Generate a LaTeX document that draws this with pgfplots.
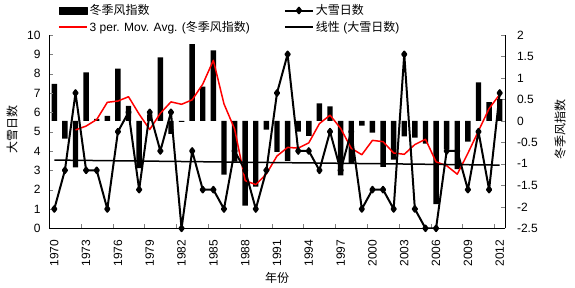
\documentclass[border=0pt]{standalone}
\usepackage{fontspec}
\setmainfont{Liberation Sans}
\newfontfamily\cjk{Noto Sans CJK SC}
\usepackage{pgfplots}
\pgfplotsset{compat=1.18}
\usepackage{pgfplotstable}

\pgfplotstableread{
year idx snow ma
1970 0.86 1 nan
1971 -0.41 3 nan
1972 -1.08 7 -0.210
1973 1.13 3 -0.120
1974 0.05 3 0.033
1975 0.12 1 0.433
1976 1.22 5 0.463
1977 0.35 6 0.563
1978 -1.10 2 0.157
1979 0.15 6 -0.200
1980 1.48 4 0.177
1981 -0.30 6 0.443
1982 -0.02 0 0.387
1983 1.79 4 0.490
1984 0.80 2 0.857
1985 1.64 2 1.410
1986 -1.25 1 0.397
1987 -0.95 4 -0.187
1988 -1.97 3 -1.390
1989 -1.53 1 -1.483
1990 -0.20 3 -1.233
1991 -0.72 7 -0.817
1992 -0.93 9 -0.617
1993 -0.25 4 -0.633
1994 -0.35 4 -0.510
1995 0.41 3 -0.063
1996 0.34 5 0.133
1997 -1.27 3 -0.173
1998 -0.98 5 -0.637
1999 -0.11 1 -0.787
2000 -0.27 2 -0.453
2001 -1.07 2 -0.483
2002 -0.90 1 -0.747
2003 -0.36 9 -0.777
2004 -0.39 1 -0.550
2005 -0.53 0 -0.427
2006 -1.94 0 -0.953
2007 -0.66 4 -1.043
2008 -1.12 4 -1.240
2009 -0.48 2 -0.753
2010 0.90 5 -0.233
2011 0.44 2 0.287
2012 0.51 7 0.617
}\datatable

\pgfplotstableread{
year trend
1970 3.53
2012 3.27
}\trendtable

\pgfplotsset{
  common/.style={
    scale only axis, width=456pt, height=193.3pt,
    xmin=1969.5, xmax=2012.5,
    tick align=inside, major tick length=4pt,
    ticklabel style={font=\fontsize{12}{14}\selectfont},
    label style={font=\fontsize{12}{14}\selectfont},
    /pgf/number format/assume math mode=true,
    every axis plot/.append style={line join=round},
  },
  barlegend/.style={legend image code/.code={\fill[black] (0pt,-3.5pt) rectangle (28pt,3.5pt);}},
  marklegend/.style={legend image code/.code={\draw[##1, mark repeat=2, mark phase=2] plot coordinates {(0pt,0pt) (14pt,0pt) (28pt,0pt)};}},
}

\begin{document}
\begin{tikzpicture}
\useasboundingbox (-49pt,-58.7pt) rectangle (526pt,228.3pt);
% right axis: winter monsoon index
\begin{axis}[common,
  ymin=-2.5, ymax=2,
  axis y line*=right, axis x line=none,
  ytick={-2.5,-2,-1.5,-1,-0.5,0,0.5,1,1.5,2},
  yticklabel style={anchor=west, xshift=8.5pt, /pgf/number format/fixed},
  ylabel={\cjk 冬季风指数},
  ylabel style={at={(axis description cs:1.1206,0.51)}, anchor=center},
]
\addplot[ybar, bar width=5.4pt, fill=black, draw=none] table[x=year, y=idx] {\datatable};
\addplot[red, line width=1.5pt, no marks] table[x=year, y=ma] {\datatable};
\end{axis}
% left axis: heavy snow days
\begin{axis}[common,
  ymin=0, ymax=10,
  axis y line*=left, axis x line*=bottom,
  ytick={0,1,...,10},
  yticklabel style={anchor=east, xshift=-5pt},
  xtick={1970,1973,...,2012},
  xticklabel style={rotate=90, anchor=east, /pgf/number format/1000 sep={}},
  xticklabel shift=8pt,
  minor xtick={1972.5,1975.5,...,2011.5},
  major x tick style={draw=none},
  minor tick length=4pt,
  ylabel={\cjk 大雪日数},
  ylabel style={at={(axis description cs:-0.081,0.51)}, anchor=center},
  xlabel={\cjk 年份},
  xlabel style={at={(axis description cs:0.5,0)}, anchor=center, yshift=-50pt},
  legend columns=2,
  legend cell align=left,
  legend style={draw=none, fill=none, at={(axis description cs:0,1)}, anchor=north west,
    xshift=6pt, yshift=34.5pt, font=\fontsize{12}{14}\selectfont,
    row sep=1pt,
    /tikz/every even column/.append style={column sep=32pt}},
]
\addlegendimage{barlegend}
\addlegendentry{\cjk 冬季风指数}
\addplot[black, line width=2pt, mark=diamond*, mark size=2.8pt, marklegend]
  table[x=year, y=snow] {\datatable};
\addlegendentry{\cjk 大雪日数}
\addlegendimage{red, line width=1.5pt, no marks, marklegend}
\addlegendentry{3 per. Mov. Avg. ({\cjk 冬季风指数})}
\addplot[black, line width=1.5pt, no marks, marklegend]
  table[x=year, y=trend] {\trendtable};
\addlegendentry{{\cjk 线性} ({\cjk 大雪日数})}
\end{axis}
\end{tikzpicture}
\end{document}
